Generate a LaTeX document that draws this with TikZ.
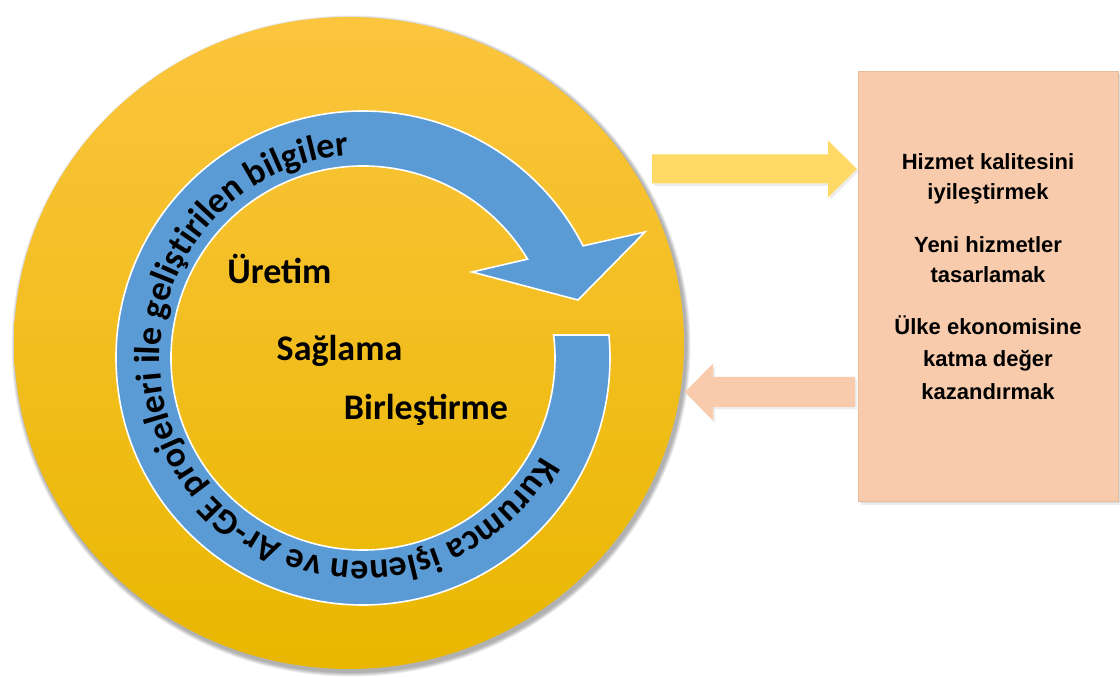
\documentclass[tikz,border=0pt]{standalone}
\usepackage{fontspec}
\setmainfont{Carlito}
\newfontfamily\boxfont{Liberation Sans}
\usetikzlibrary{calc,decorations.text}
\definecolor{ringblue}{HTML}{5B9BD5}
\definecolor{goldtop}{HTML}{FBC53E}
\definecolor{goldmid}{HTML}{FFC300}
\definecolor{goldbot}{HTML}{E9B700}
\definecolor{arrowgold}{HTML}{FFD966}
\definecolor{peach}{HTML}{F8CBAD}
\definecolor{peachedge}{HTML}{E6BC9F}
\begin{document}
\begin{tikzpicture}[x=1pt,y=1pt,
  stagetext/.style={font=\fontsize{36}{40}\selectfont\bfseries, anchor=base, inner sep=0},
  goalline/.style={font=\boxfont\fontsize{22}{26}\selectfont\bfseries, anchor=base, inner sep=0},
  blockarrow/.style={line join=miter},
  softshadow/.style={fill=black, opacity=0.07}]
\useasboundingbox (0,0) rectangle (1120,677);

% disc with a soft shadow
\foreach \k in {1,...,5}
  \fill[softshadow] (351,331) ellipse [x radius={335+\k*0.9}, y radius={326+\k*0.9}];
\shade[top color=goldtop, middle color=goldmid, bottom color=goldbot]
  (349,334) ellipse [x radius=335, y radius=326];

% circular blue arrow
\coordinate (C) at (363,319);
\filldraw[fill=ringblue, draw=white, line width=1.6, line join=miter]
  ($(C)+(5.34:247)$) arc[start angle=5.34, end angle=-333, radius=247]
  -- (645,445) -- (578,377) -- (472,405)
  -- ($(C)+(-329:192)$) arc[start angle=-329, end angle=6.88, radius=192]
  -- cycle;

% text running along the ring
\path[decorate, decoration={text along path, text align=center,
  text={|\fontsize{36}{40}\selectfont\bfseries|Kurumca işlenen ve Ar-GE projeleri ile geliştirilen bilgiler}}]
  ($(C)+(-10:203)$) arc[start angle=-10, end angle=-285, radius=203];

% stages inside the ring
\node[stagetext] (uretim) at (279.5,393) {Üretim};
\node[stagetext] (saglama) at (339.5,316) {Sağlama};
\node[stagetext] (birlestirme) at (426,257) {Birleştirme};

% goals box
\fill[softshadow] (861,172) rectangle (1121,602);
\fill[softshadow] (860,173.5) rectangle (1120,603.5);
\node[draw=peachedge, fill=peach, line width=0.8, minimum width=260, minimum height=430,
  anchor=south west, inner sep=0] (box) at (858,175) {};
\node[goalline] (g1a) at (988,507) {Hizmet kalitesini};
\node[goalline] (g1b) at (988,477) {iyileştirmek};
\node[goalline] (g2a) at (988,424) {Yeni hizmetler};
\node[goalline] (g2b) at (988,394) {tasarlamak};
\node[goalline] (g3a) at (988,342) {Ülke ekonomisine};
\node[goalline] (g3b) at (988,310) {katma değer};
\node[goalline] (g3c) at (988,277) {kazandırmak};

% block arrow towards the goals
\fill[softshadow, blockarrow, shift={(2,-2.5)}]
  (652,522.5) -- (828,522.5) -- (828,536.5) -- (857,508) -- (828,479.5) -- (828,493.5) -- (652,493.5) -- cycle;
\fill[arrowgold, blockarrow]
  (652,522.5) -- (828,522.5) -- (828,536.5) -- (857,508) -- (828,479.5) -- (828,493.5) -- (652,493.5) -- cycle;

% block arrow back to the disc
\fill[softshadow, blockarrow, shift={(2,-2.5)}]
  (855,300) -- (713,300) -- (713,313.5) -- (685,285) -- (713,256.5) -- (713,270) -- (855,270) -- cycle;
\fill[peach, blockarrow]
  (855,300) -- (713,300) -- (713,313.5) -- (685,285) -- (713,256.5) -- (713,270) -- (855,270) -- cycle;
\end{tikzpicture}
\end{document}
